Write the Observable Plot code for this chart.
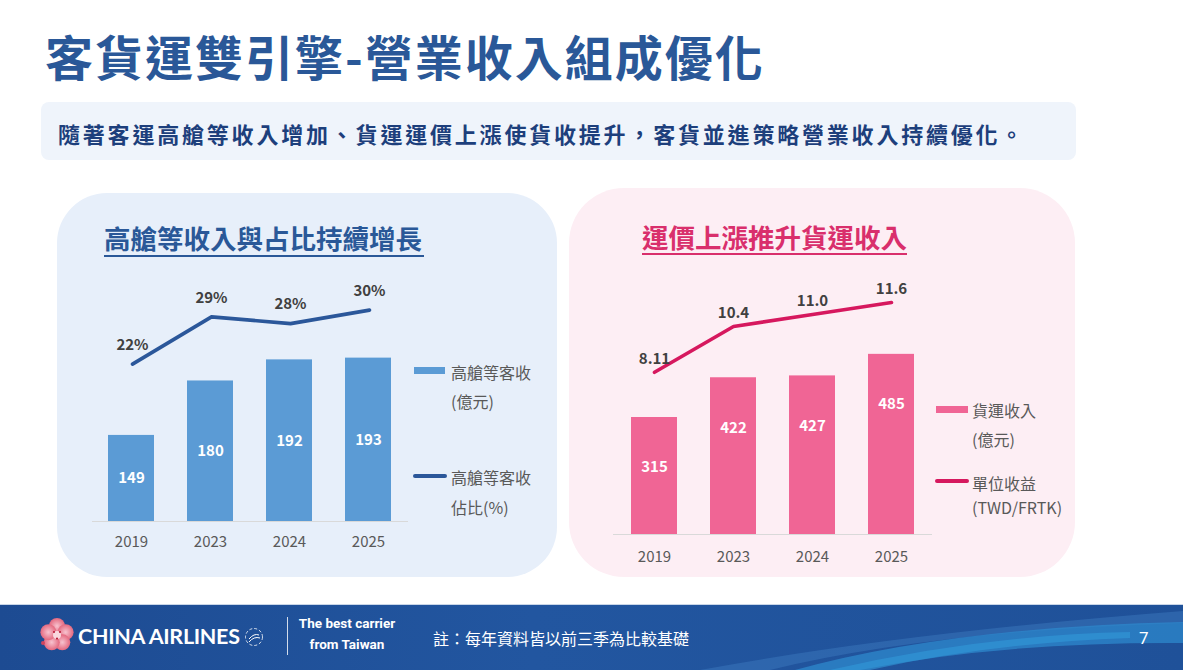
<!DOCTYPE html>
<html>
<head>
<meta charset="utf-8">
<script src="https://cdn.jsdelivr.net/npm/d3@7"></script>
<script src="https://cdn.jsdelivr.net/npm/@observablehq/plot@0.6"></script>
<style>
  html, body { margin: 0; padding: 0; background: #ffffff; }
  #page { position: relative; width: 1183px; height: 670px; overflow: hidden;
          font-family: "Noto Sans CJK TC", "Noto Sans", sans-serif; }
  .abs { position: absolute; white-space: nowrap; }
  .title { left: 45px; top: 31px; font-size: 48px; line-height: 48px; font-weight: 700;
           color: #2a5898; letter-spacing: 2px; }
  .lead-box { left: 41px; top: 102px; width: 1035px; height: 58px; background: #eff4fb; border-radius: 8px; }
  .lead { left: 58px; top: 120px; font-size: 22px; line-height: 27px; font-weight: 700;
          color: #1d3f7c; letter-spacing: 2.8px; }
  .panel-blue { left: 57px; top: 193px; width: 500px; height: 384px; border-radius: 50px; background: #e7effa; }
  .panel-pink { left: 569px; top: 188px; width: 506px; height: 389px; border-radius: 55px; background: #fdeef4; }
  .ptitle { font-size: 26.5px; line-height: 30px; font-weight: 700; }
  .uline { height: 2px; }
  .leg { font-size: 16px; line-height: 20px; color: #595959; }
  .chart { position: absolute; }
  .chart svg { position: absolute; left: 0; top: 0; overflow: visible; }
  .footer { left: 0; top: 605px; width: 1183px; height: 65px;
            background: linear-gradient(90deg, #1d4b92 0%, #2256a0 45%, #1f5199 100%); }
  .foot-text { color: #ffffff; }
</style>
</head>
<body>
<div id="page">
  <div class="abs title">客貨運雙引擎-營業收入組成優化</div>
  <div class="abs lead-box"></div>
  <div class="abs lead">隨著客運高艙等收入增加、貨運運價上漲使貨收提升，客貨並進策略營業收入持續優化。</div>

  <div class="abs panel-blue"></div>
  <div class="abs panel-pink"></div>

  <div class="abs ptitle" style="left:104px; top:223px; color:#2a5898;">高艙等收入與占比持續增長</div>
  <div class="abs uline" style="left:104px; top:255px; width:320px; background:#2a5898;"></div>
  <div class="abs ptitle" style="left:642px; top:222px; color:#d92f6c;">運價上漲推升貨運收入</div>
  <div class="abs uline" style="left:642px; top:253px; width:265px; background:#d92f6c;"></div>

  <div id="chartLeft" class="chart" style="left:0px; top:250px; width:560px; height:310px;"></div>
  <div id="chartRight" class="chart" style="left:560px; top:264px; width:500px; height:310px;"></div>

  <!-- legends -->
  <div class="abs" style="left:414px; top:367px; width:31px; height:7px; background:#5b9bd5;"></div>
  <div class="abs leg" style="left:451px; top:362px;">高艙等客收</div>
  <div class="abs leg" style="left:451px; top:391px;">(億元)</div>
  <div class="abs" style="left:413px; top:474px; width:34px; height:3.5px; border-radius:2px; background:#2b579a;"></div>
  <div class="abs leg" style="left:451px; top:467px;">高艙等客收</div>
  <div class="abs leg" style="left:451px; top:497px;">佔比(%)</div>

  <div class="abs" style="left:936px; top:406px; width:32px; height:7px; background:#f06595;"></div>
  <div class="abs leg" style="left:972px; top:400px;">貨運收入</div>
  <div class="abs leg" style="left:972px; top:429px;">(億元)</div>
  <div class="abs" style="left:935px; top:479px; width:34px; height:3.5px; border-radius:2px; background:#d6185e;"></div>
  <div class="abs leg" style="left:972px; top:473px;">單位收益</div>
  <div class="abs leg" style="left:972px; top:497px;">(TWD/FRTK)</div>

  <!-- footer band -->
  <div class="abs" style="left:0; top:604px; width:1183px; height:1px; background:#c9d6e8;"></div>
  <div class="abs footer"></div>
  <svg class="abs" style="left:0; top:605px; z-index:2;" width="1183" height="65" viewBox="0 0 1183 65">
    <defs>
      <radialGradient id="petal" cx="0.5" cy="0.5" r="0.6">
        <stop offset="0" stop-color="#f7c3cf"/>
        <stop offset="1" stop-color="#e0566f"/>
      </radialGradient>
    </defs>
    <!-- light swoosh across the right of the band -->
    <path d="M700,65 Q900,28 1183,6 L1183,18 Q930,26 770,65 Z" fill="#3f7cc0" fill-opacity="0.45"/>
    <path d="M795,65 Q950,22 1183,17 L1183,38 Q1000,37 860,65 Z" fill="#2d88cc" fill-opacity="0.75"/>
    <path d="M830,65 Q980,30 1130,27 L1130,33 Q990,38 870,65 Z" fill="#3299d8" fill-opacity="0.6"/>
    <!-- blossom emblem -->
    <g transform="translate(57,30)">
      <circle cx="0" cy="-9" r="8" fill="url(#petal)"/>
      <circle cx="8.6" cy="-2.8" r="8" fill="url(#petal)"/>
      <circle cx="5.3" cy="7.3" r="8" fill="url(#petal)"/>
      <circle cx="-5.3" cy="7.3" r="8" fill="url(#petal)"/>
      <circle cx="-8.6" cy="-2.8" r="8" fill="url(#petal)"/>
      <circle cx="0" cy="0" r="4" fill="#f9d7de"/>
      <circle cx="-3" cy="-3" r="1" fill="#b3122f"/>
      <circle cx="3" cy="-3" r="1" fill="#b3122f"/>
      <circle cx="0" cy="3.5" r="1" fill="#b3122f"/>
      <circle cx="-14" cy="8" r="2" fill="#d2445e"/>
    </g>
    <!-- alliance emblem -->
    <g transform="translate(254,32)" fill="none" stroke="#ffffff" stroke-width="1">
      <circle r="8.5" stroke-dasharray="3 2" opacity="0.8"/>
      <path d="M-5 2 Q 0 -4 5 -2 M-5 5 Q 0 -1 6 1"/>
    </g>
    <line x1="287.5" x2="287.5" y1="12" y2="50" stroke="#ffffff" stroke-opacity="0.8"/>
  </svg>
  <div class="abs foot-text" style="z-index:3; left:78px; top:619px; font-family:Lato, sans-serif; font-weight:700; font-size:21.5px; line-height:34px; letter-spacing:-0.3px;">CHINA AIRLINES</div>
  <div class="abs foot-text" style="z-index:3; left:295px; top:613px; width:104px; text-align:center; font-family:Roboto, sans-serif; font-weight:700; font-size:13.5px; line-height:21px;">The best carrier<br>from Taiwan</div>
  <div class="abs foot-text" style="z-index:3; left:433px; top:627px; font-size:16px; line-height:22px;">註：每年資料皆以前三季為比較基礎</div>
  <div class="abs foot-text" style="z-index:3; left:1139px; top:627px; font-family:Roboto, sans-serif; font-size:17px; line-height:22px;">7</div>
</div>

<script>
// Reporting years (first three quarters of each year)
const years = ["2019", "2023", "2024", "2025"];

// Premium-cabin passenger revenue (億元) and its share of passenger revenue (%)
const premiumRevenue = [149, 180, 192, 193];
const premiumShare = [22, 29, 28, 30];

// Cargo revenue (億元) and cargo yield (TWD/FRTK)
const cargoRevenue = [315, 422, 427, 485];
const cargoYield = [8.11, 10.4, 11.0, 11.6];

const premiumRows = years.map((year, i) => ({year, revenue: premiumRevenue[i], share: premiumShare[i]}));
const cargoRows = years.map((year, i) => ({year, revenue: cargoRevenue[i], yield: cargoYield[i]}));

const fontFamily = '"Noto Sans CJK TC", "Noto Sans", sans-serif';
const fmtYield = v => (Number.isInteger(v) ? v.toFixed(1) : String(v));

// Shared frame for a bar layer and a line layer drawn on top with its own y scale
function frame(f) {
  return {
    width: f.width, height: f.height,
    marginLeft: f.ml, marginRight: f.mr, marginTop: f.mt, marginBottom: f.mb,
    style: {background: "transparent", fontFamily, fontSize: "15px", color: "#595959", overflow: "visible"}
  };
}

function comboChart(el, f, rows, opts) {
  // bars + category axis
  const bars = Plot.plot({
    ...frame(f),
    x: {domain: years, paddingInner: 0.415, paddingOuter: 0.2075, label: null, tickSize: 0, tickPadding: opts.tickPadding},
    y: {domain: opts.barDomain, axis: null},
    marks: [
      Plot.ruleY([opts.barDomain[0]], {stroke: "#d9d9d9", strokeWidth: 1}),
      Plot.barY(rows, {x: "year", y1: opts.barDomain[0], y2: "revenue", fill: opts.barColor}),
      Plot.text(rows, {
        x: "year",
        y: opts.barLabelY,
        dy: opts.barLabelDy,
        text: d => String(d.revenue),
        fill: "#ffffff", fontWeight: 700, fontSize: 15
      })
    ]
  });
  // line on a secondary scale
  const line = Plot.plot({
    ...frame(f),
    x: {type: "point", domain: years, padding: 0.5, axis: null},
    y: {domain: opts.lineDomain, axis: null},
    marks: [
      Plot.lineY(rows, {x: "year", y: opts.lineKey, stroke: opts.lineColor, strokeWidth: 3.6,
                        strokeLinejoin: "round", strokeLinecap: "round"}),
      Plot.text(rows, {x: "year", y: opts.lineKey, text: d => opts.lineFormat(d[opts.lineKey]),
                       dy: opts.lineLabelDy, fill: "#404040", fontWeight: 700, fontSize: 15})
    ]
  });
  el.append(bars, line);
}

comboChart(
  document.getElementById("chartLeft"),
  {width: 560, height: 310, ml: 92, mr: 152, mt: 11, mb: 39},
  premiumRows,
  {
    barDomain: [100, 248], barColor: "#5b9bd5",
    barLabelY: d => (100 + d.revenue) / 2, barLabelDy: 0,
    lineKey: "share", lineDomain: [-1.3, 37.2], lineColor: "#2b579a",
    lineFormat: v => v + "%", lineLabelDy: -19, tickPadding: 15
  }
);

comboChart(
  document.getElementById("chartRight"),
  {width: 500, height: 310, ml: 53, mr: 128, mt: 10, mb: 40},
  cargoRows,
  {
    barDomain: [0, 700], barColor: "#f06595",
    barLabelY: "revenue", barLabelDy: 50,
    lineKey: "yield", lineDomain: [0, 13], lineColor: "#d6185e",
    lineFormat: fmtYield, lineLabelDy: -13, tickPadding: 17
  }
);
</script>
</body>
</html>
